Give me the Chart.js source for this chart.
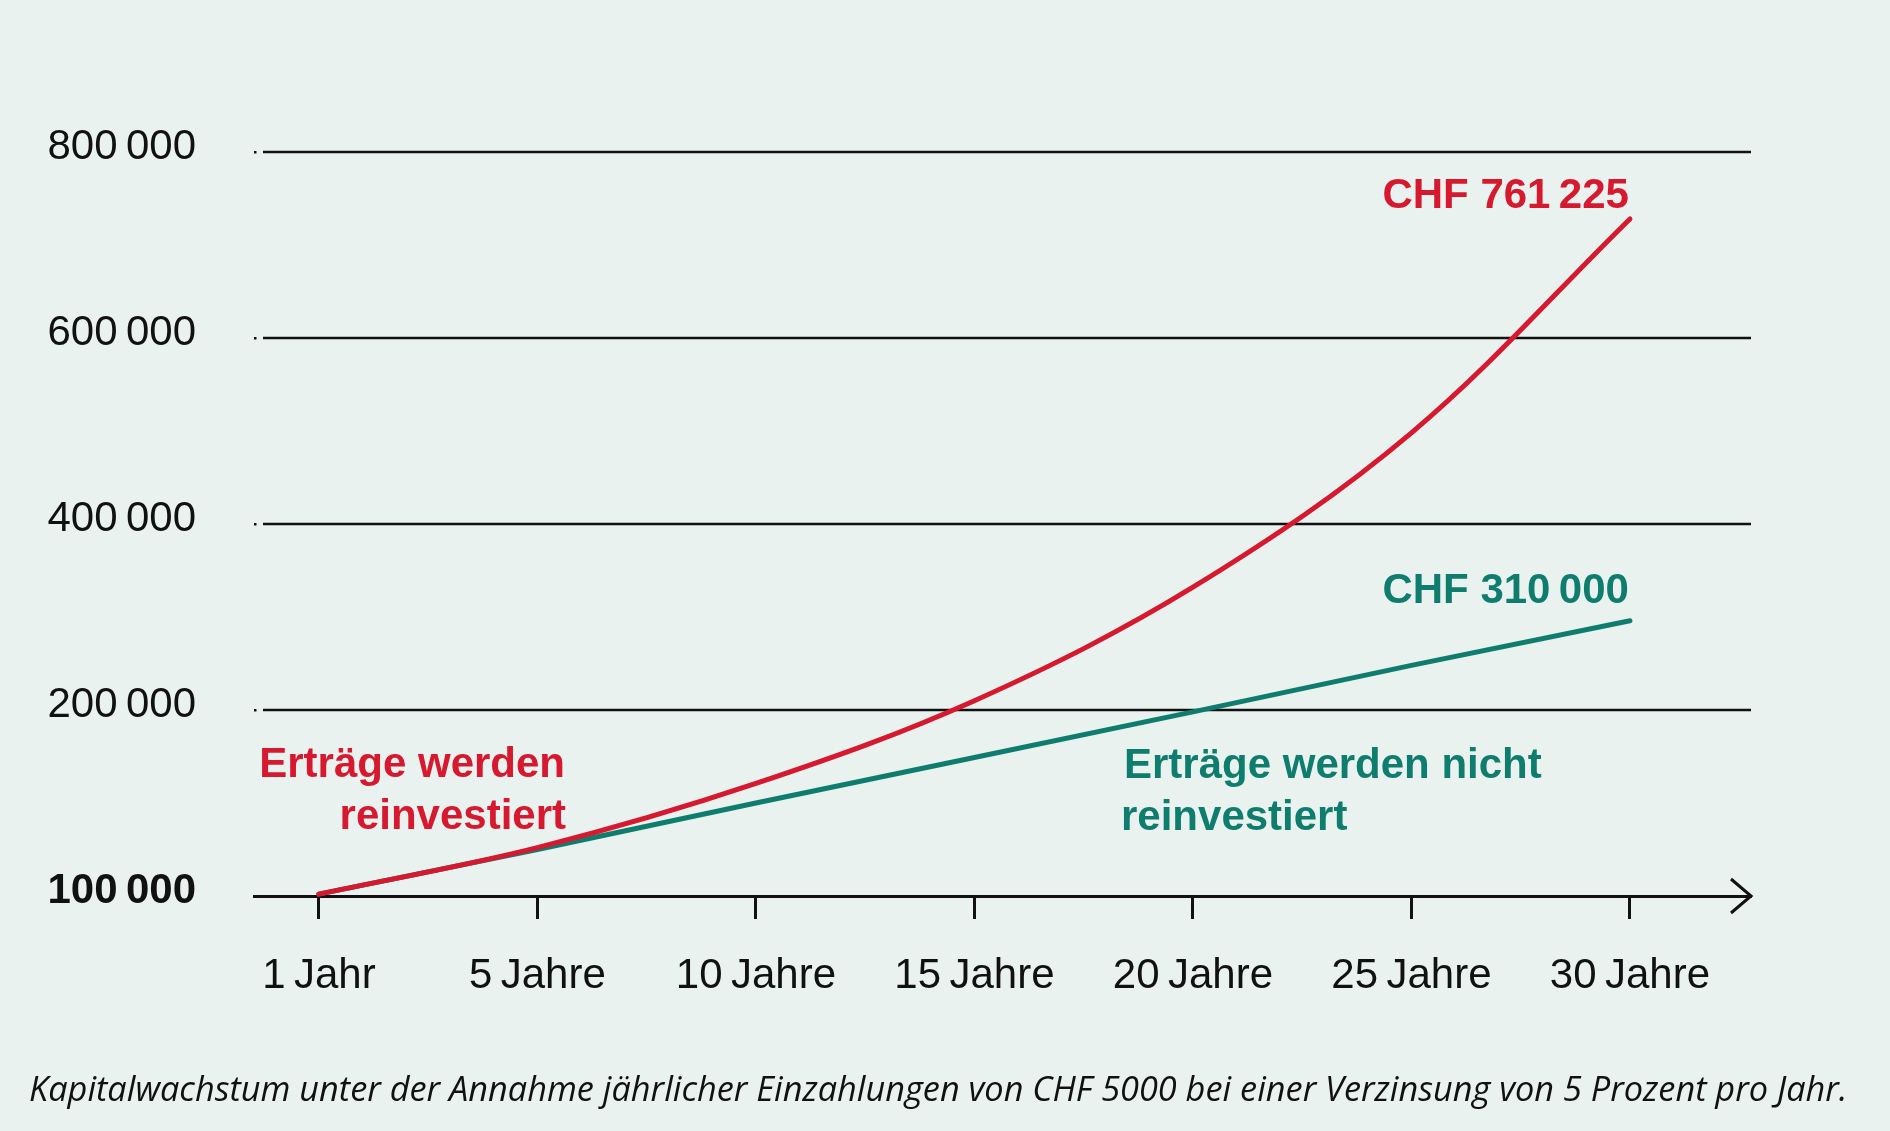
<!DOCTYPE html>
<html lang="de">
<head>
<meta charset="utf-8">
<script src="https://cdn.jsdelivr.net/npm/chart.js@4"></script>
<style>
  html, body { margin: 0; padding: 0; background: #eaf2f0; }
  #wrap { position: relative; width: 1890px; height: 1131px; }
</style>
</head>
<body>
<div id="wrap"><canvas id="myChart"></canvas></div>
<script>
// x categories
var years = ["1\u2009Jahr", "5\u2009Jahre", "10\u2009Jahre", "15\u2009Jahre", "20\u2009Jahre", "25\u2009Jahre", "30\u2009Jahre"];
// values as plotted (axis base drawn at the "100 000" line)
var reinvestiert = [2000, 52000, 121000, 210000, 332000, 498000, 728000];
var nichtReinvestiert = [2000, 50000, 100000, 149000, 198000, 248000, 296000];
var yTickValues = [0, 200000, 400000, 600000, 800000];
var yTickLabels = ["100\u2009000", "200\u2009000", "400\u2009000", "600\u2009000", "800\u2009000"];
var endLabels = ["CHF 761\u2009225", "CHF 310\u2009000"];
var caption = "Kapitalwachstum unter der Annahme jährlicher Einzahlungen von CHF 5000 bei einer Verzinsung von 5 Prozent pro Jahr.";

var RED = "#d6192f";
var TEAL = "#0f7d6e";
var FONT = '"Liberation Sans", Arial, sans-serif';

var gridLines = {
  id: "gridLines",
  beforeDatasetsDraw: function (chart) {
    var ctx = chart.ctx, a = chart.chartArea, y = chart.scales.y;
    ctx.save();
    ctx.strokeStyle = "#111";
    ctx.fillStyle = "#111";
    ctx.lineWidth = 2.5;
    yTickValues.forEach(function (v) {
      if (v === 0) return;
      var py = y.getPixelForValue(v);
      ctx.beginPath();
      ctx.moveTo(a.left + 9, py);
      ctx.lineTo(a.right, py);
      ctx.stroke();
      ctx.fillRect(a.left, py - 1, 2.5, 2.5);
    });
    // arrow head on the x axis
    var p0 = y.getPixelForValue(0);
    ctx.lineWidth = 3;
    ctx.beginPath();
    ctx.moveTo(a.right - 20, p0 - 17);
    ctx.lineTo(a.right, p0);
    ctx.lineTo(a.right - 20, p0 + 17);
    ctx.stroke();
    ctx.restore();
  }
};

var notes = {
  id: "notes",
  afterDatasetsDraw: function (chart) {
    var ctx = chart.ctx;
    ctx.save();
    ctx.font = "bold 42px " + FONT;
    ctx.textBaseline = "alphabetic";

    // end values
    var pRed = chart.getDatasetMeta(0).data[reinvestiert.length - 1];
    var pTeal = chart.getDatasetMeta(1).data[nichtReinvestiert.length - 1];
    ctx.textAlign = "right";
    ctx.fillStyle = RED;
    ctx.fillText(endLabels[0], pRed.x - 1, pRed.y - 11);
    ctx.fillStyle = TEAL;
    ctx.fillText(endLabels[1], pTeal.x - 1, pTeal.y - 18);

    // series notes
    ctx.fillStyle = RED;
    ctx.textAlign = "right";
    ctx.fillText("Erträge werden", 565, 777);
    ctx.fillText("reinvestiert", 566, 829);
    ctx.fillStyle = TEAL;
    ctx.textAlign = "left";
    ctx.fillText("Erträge werden nicht", 1124, 778);
    ctx.fillText("reinvestiert", 1121, 830);

    // caption, sized to span the same width as the original
    ctx.fillStyle = "#111";
    ctx.font = 'italic 30px "Open Sans", sans-serif';
    var size = 30 * 1821 / ctx.measureText(caption).width;
    ctx.font = "italic " + size.toFixed(1) + 'px "Open Sans", sans-serif';
    ctx.textAlign = "left";
    ctx.fillText(caption, 29, 1101);
    ctx.restore();
  }
};

var ctx = document.getElementById("myChart").getContext("2d");
var myChart = new Chart(ctx, {
  type: "line",
  data: {
    datasets: [
      {
        label: "Erträge werden reinvestiert",
        data: reinvestiert.map(function (v, i) { return { x: i, y: v }; }),
        borderColor: RED,
        borderWidth: 5,
        borderCapStyle: "round",
        tension: 0.35,
        pointRadius: 0,
        clip: false
      },
      {
        label: "Erträge werden nicht reinvestiert",
        data: nichtReinvestiert.map(function (v, i) { return { x: i, y: v }; }),
        borderColor: TEAL,
        borderWidth: 5,
        borderCapStyle: "round",
        pointRadius: 0,
        clip: false
      }
    ]
  },
  options: {
    responsive: true,
    maintainAspectRatio: false,
    animation: false,
    layout: { padding: { top: 152, right: 139, left: 0, bottom: 0 } },
    scales: {
      x: {
        type: "linear",
        min: -0.297,
        max: 6.554,
        afterBuildTicks: function (s) {
          s.ticks = years.map(function (_, i) { return { value: i }; });
        },
        afterFit: function (s) { s.height = 235; },
        grid: {
          drawOnChartArea: false,
          drawTicks: true,
          tickLength: 23,
          tickWidth: 3,
          color: "#111"
        },
        border: { display: true, width: 3, color: "#111" },
        ticks: {
          autoSkip: false,
          maxRotation: 0,
          padding: 32,
          color: "#111",
          font: { family: FONT, size: 42 },
          callback: function (v) { return years[v]; }
        }
      },
      y: {
        min: 0,
        max: 800000,
        afterBuildTicks: function (s) {
          s.ticks = yTickValues.map(function (v) { return { value: v }; });
        },
        afterFit: function (s) { s.width = 254; },
        grid: { display: false, drawTicks: false },
        border: { display: false },
        ticks: {
          padding: 58,
          labelOffset: -5,
          color: "#111",
          font: function (c) {
            return { family: FONT, size: 42, weight: c.tick && c.tick.value === 0 ? "bold" : "normal" };
          },
          callback: function (v) { return yTickLabels[yTickValues.indexOf(v)]; }
        }
      }
    },
    plugins: {
      legend: { display: false },
      tooltip: { enabled: false }
    }
  },
  plugins: [gridLines, notes]
});
</script>
</body>
</html>
